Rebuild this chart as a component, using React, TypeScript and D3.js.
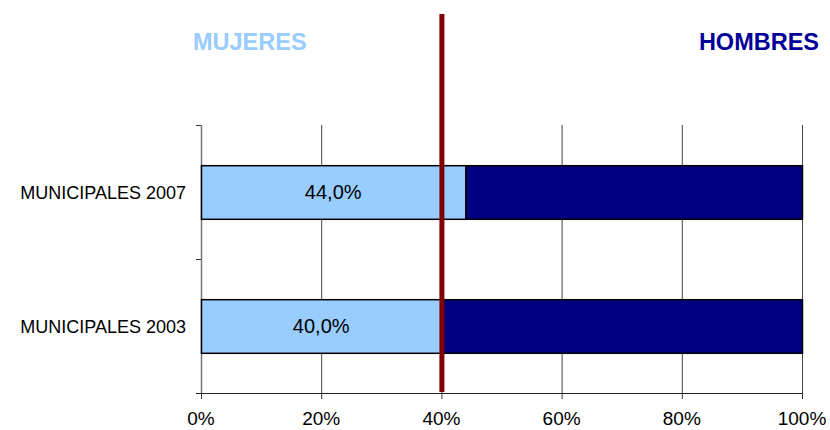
import React, { useEffect, useRef } from 'react';
import * as d3 from 'd3';

const categories = ['MUNICIPALES 2007', 'MUNICIPALES 2003'];
const mujeres = [44.0, 40.0];
const hombres = [56.0, 60.0];
const xTicks = [0, 20, 40, 60, 80, 100];
const threshold = 40;

export default function App() {
  const ref = useRef<SVGSVGElement>(null);

  useEffect(() => {
    if (!ref.current) return;
    const svg = d3.select(ref.current);
    svg.selectAll('*').remove();

    const width = 830;
    const height = 430;
    const left = 201;
    const right = 802;
    const top = 125;
    const bottom = 393;
    const font = '"Liberation Sans", Arial, sans-serif';

    const x = d3.scaleLinear().domain([0, 100]).range([left, right]);
    const y = d3.scaleBand<string>()
      .domain(categories)
      .range([top, bottom])
      .paddingInner(0.6)
      .paddingOuter(0.3);

    svg.attr('width', width).attr('height', height);

    // vertical gridlines
    svg.append('g')
      .selectAll('line')
      .data(xTicks.slice(1))
      .enter()
      .append('line')
      .attr('x1', d => x(d) + 0.5)
      .attr('x2', d => x(d) + 0.5)
      .attr('y1', top)
      .attr('y2', bottom)
      .attr('stroke', '#444')
      .attr('stroke-width', 1);

    // left axis
    svg.append('line')
      .attr('x1', left + 0.5).attr('x2', left + 0.5)
      .attr('y1', top).attr('y2', bottom)
      .attr('stroke', '#777').attr('stroke-width', 1.5);

    const boundaries = [top, top + (bottom - top) / 2, bottom];
    svg.append('g')
      .selectAll('line')
      .data(boundaries)
      .enter()
      .append('line')
      .attr('x1', left - 5)
      .attr('x2', left)
      .attr('y1', d => Math.round(d) + 0.5)
      .attr('y2', d => Math.round(d) + 0.5)
      .attr('stroke', '#333');

    // bottom axis
    svg.append('line')
      .attr('x1', left - 5).attr('x2', right)
      .attr('y1', bottom + 0.5).attr('y2', bottom + 0.5)
      .attr('stroke', '#222');
    svg.append('g')
      .selectAll('line')
      .data(xTicks)
      .enter()
      .append('line')
      .attr('x1', d => x(d) + 0.5)
      .attr('x2', d => x(d) + 0.5)
      .attr('y1', bottom)
      .attr('y2', bottom + 6)
      .attr('stroke', '#333');

    svg.append('g')
      .selectAll('text')
      .data(xTicks)
      .enter()
      .append('text')
      .attr('x', d => x(d))
      .attr('y', 425)
      .attr('text-anchor', 'middle')
      .style('font-family', font)
      .style('font-size', '19px')
      .text(d => `${d}%`);

    // bars
    const bars = svg.append('g');
    categories.forEach((c, i) => {
      const y0 = y(c)!;
      const bh = y.bandwidth();
      bars.append('rect')
        .attr('x', x(0) + 0.5)
        .attr('y', y0 + 0.5)
        .attr('width', x(mujeres[i]) - x(0))
        .attr('height', bh)
        .attr('fill', '#99CCFF')
        .attr('stroke', '#000')
        .attr('stroke-width', 1.5);
      bars.append('rect')
        .attr('x', x(mujeres[i]) + 0.5)
        .attr('y', y0 + 0.5)
        .attr('width', x(mujeres[i] + hombres[i]) - x(mujeres[i]))
        .attr('height', bh)
        .attr('fill', '#000080')
        .attr('stroke', '#000')
        .attr('stroke-width', 1.5);
      bars.append('text')
        .attr('x', (x(0) + x(mujeres[i])) / 2)
        .attr('y', y0 + bh / 2 + 7)
        .attr('text-anchor', 'middle')
        .style('font-family', font)
        .style('font-size', '20px')
        .text(mujeres[i].toFixed(1).replace('.', ',') + '%');
      svg.append('text')
        .attr('x', 186)
        .attr('y', y0 + bh / 2 + 7)
        .attr('text-anchor', 'end')
        .style('font-family', font)
        .style('font-size', '18px')
        .text(c);
    });

    // threshold line
    svg.append('line')
      .attr('x1', x(threshold) + 0.5)
      .attr('x2', x(threshold) + 0.5)
      .attr('y1', 14)
      .attr('y2', 392)
      .attr('stroke', '#800000')
      .attr('stroke-width', 5);

    // headers
    svg.append('text')
      .attr('x', 193)
      .attr('y', 50)
      .style('font-family', font)
      .style('font-size', '23.5px')
      .style('font-weight', 'bold')
      .attr('fill', '#99CCFF')
      .text('MUJERES');
    svg.append('text')
      .attr('x', 819)
      .attr('y', 50)
      .attr('text-anchor', 'end')
      .style('font-family', font)
      .style('font-size', '23.5px')
      .style('font-weight', 'bold')
      .attr('fill', '#000099')
      .text('HOMBRES');
  }, []);

  return (
    <div style={{ position: 'absolute', left: 0, top: 0, background: '#fff' }}>
      <svg ref={ref} />
    </div>
  );
}
